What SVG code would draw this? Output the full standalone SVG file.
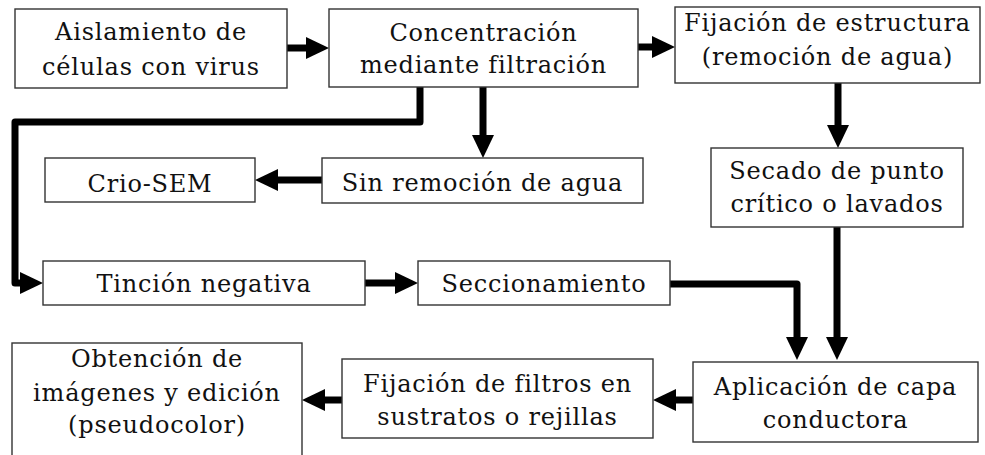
<svg xmlns="http://www.w3.org/2000/svg" width="985" height="455" viewBox="0 0 985 455">
<style>
  .box { fill: #ffffff; stroke: #333333; stroke-width: 1.4; }
  .t { font-family: "DejaVu Serif", "Liberation Serif", serif; font-size: 24px; letter-spacing: 0.8px; fill: #111111; text-anchor: middle; }
  .c { fill: none; stroke: #000000; stroke-width: 7; stroke-linejoin: round; marker-end: url(#ah); }
</style>
<defs>
  <marker id="ah" markerUnits="userSpaceOnUse" markerWidth="24" markerHeight="22" refX="0" refY="11" orient="auto">
    <path d="M0,0 L23,11 L0,22 z" fill="#000000"/>
  </marker>
</defs>
<rect width="985" height="455" fill="#ffffff"/>
<g id="connectors">
  <path class="c" d="M287,48 H306"/>
  <path class="c" d="M638,47 H652"/>
  <path class="c" d="M838,83 V125"/>
  <path class="c" d="M483,87 V135"/>
  <path class="c" d="M322,180 H278"/>
  <path class="c" d="M420,87 V122 H15 V283 H20"/>
  <path class="c" d="M365,283 H395"/>
  <path class="c" d="M670,284 H797 V337"/>
  <path class="c" d="M837,227 V337"/>
  <path class="c" d="M693,400 H676"/>
  <path class="c" d="M342,400 H325"/>
</g>
<g id="n1">
  <rect class="box" x="15" y="9" width="272" height="79"/>
  <text class="t" x="151" y="40">Aislamiento de</text>
  <text class="t" x="151" y="75">células con virus</text>
</g>
<g id="n2">
  <rect class="box" x="329" y="9" width="309" height="78"/>
  <text class="t" x="483.5" y="41">Concentración</text>
  <text class="t" x="483.5" y="73">mediante filtración</text>
</g>
<g id="n3">
  <rect class="box" x="675" y="7" width="305" height="76"/>
  <text class="t" x="827.5" y="31">Fijación de estructura</text>
  <text class="t" x="827.5" y="65">(remoción de agua)</text>
</g>
<g id="n4">
  <rect class="box" x="711" y="148" width="252" height="79"/>
  <text class="t" x="837" y="179">Secado de punto</text>
  <text class="t" x="837" y="212">crítico o lavados</text>
</g>
<g id="n5">
  <rect class="box" x="322" y="158" width="321" height="45"/>
  <text class="t" x="482.5" y="191">Sin remoción de agua</text>
</g>
<g id="n6">
  <rect class="box" x="45" y="158" width="210" height="44"/>
  <text class="t" x="150" y="192">Crio-SEM</text>
</g>
<g id="n7">
  <rect class="box" x="43" y="261" width="322" height="44"/>
  <text class="t" x="204" y="292">Tinción negativa</text>
</g>
<g id="n8">
  <rect class="box" x="418" y="261" width="252" height="44"/>
  <text class="t" x="544" y="292">Seccionamiento</text>
</g>
<g id="n9">
  <rect class="box" x="693" y="362" width="285" height="80"/>
  <text class="t" x="835.5" y="395">Aplicación de capa</text>
  <text class="t" x="835.5" y="428">conductora</text>
</g>
<g id="n10">
  <rect class="box" x="342" y="359" width="311" height="79"/>
  <text class="t" x="497.5" y="392">Fijación de filtros en</text>
  <text class="t" x="497.5" y="425">sustratos o rejillas</text>
</g>
<g id="n11">
  <rect class="box" x="12" y="343" width="290" height="118"/>
  <text class="t" x="157" y="367">Obtención de</text>
  <text class="t" x="157" y="401">imágenes y edición</text>
  <text class="t" x="157" y="433">(pseudocolor)</text>
</g>
</svg>
